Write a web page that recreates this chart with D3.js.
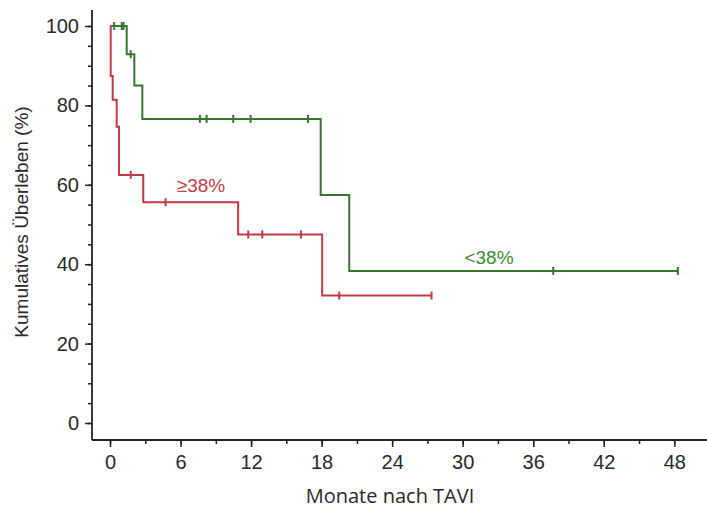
<!DOCTYPE html>
<html>
<head>
<meta charset="utf-8">
<script src="https://cdn.jsdelivr.net/npm/d3@7"></script>
<style>
  body { margin: 0; background: #fff; }
  svg { display: block; }
</style>
</head>
<body>
<div id="chart"></div>
<script>
// Kaplan-Meier-Daten
const greenTimes = [0, 1.42, 2.07, 2.75, 17.92, 20.35];
const greenSurv = [100, 92.9, 85.0, 76.6, 57.4, 38.3];
const greenEnd = 48.3;
const greenCensor = [0.35, 1.0, 1.15, 1.76, 7.65, 8.22, 10.48, 11.96, 16.84, 37.7, 48.3];

const redTimes = [0, 0.06, 0.23, 0.57, 0.77, 2.83, 10.9, 18.05];
const redSurv = [100, 87.4, 81.4, 74.6, 62.5, 55.6, 47.5, 32.1];
const redEnd = 27.35;
const redCensor = [1.76, 4.73, 11.76, 12.95, 16.24, 19.5, 27.35];

const xTicks = [0, 6, 12, 18, 24, 30, 36, 42, 48];
const yTicks = [0, 20, 40, 60, 80, 100];

const W = 707, H = 510;
const green = "#377530", red = "#c23a44";

const svg = d3.select("#chart").append("svg")
    .attr("width", W)
    .attr("height", H);

const x = d3.scaleLinear().domain([0, 48]).range([110, 674.3]);
const y = d3.scaleLinear().domain([0, 100]).range([423, 26]);

const axisX0 = 92, axisY0 = 440;
const font = "'Liberation Sans', Arial, sans-serif";

// Y-Achse: kleine Striche alle 5, große alle 20
svg.append("g")
    .attr("transform", `translate(${axisX0},0)`)
    .call(d3.axisLeft(y).tickValues(d3.range(0, 101, 5)).tickSize(4).tickFormat(""))
    .call(g => g.select(".domain").remove());

const yAxis = svg.append("g")
    .attr("transform", `translate(${axisX0},0)`)
    .call(d3.axisLeft(y).tickValues(yTicks).tickSize(7).tickPadding(6))
    .call(g => g.select(".domain").remove());
yAxis.selectAll("text").style("font-family", font).style("font-size", "20px").attr("fill", "#2a2a2a");

// X-Achse
svg.append("g")
    .attr("transform", `translate(0,${axisY0})`)
    .call(d3.axisBottom(x).tickValues(d3.range(0, 49, 3)).tickSize(4).tickFormat(""))
    .call(g => g.select(".domain").remove());

const xAxis = svg.append("g")
    .attr("transform", `translate(0,${axisY0})`)
    .call(d3.axisBottom(x).tickValues(xTicks).tickSize(7).tickPadding(8))
    .call(g => g.select(".domain").remove());
xAxis.selectAll("text").style("font-family", font).style("font-size", "20px").attr("fill", "#2a2a2a");

svg.selectAll(".tick line").attr("stroke", "#222").attr("stroke-width", 1.5);

// Achsenlinien
svg.append("line")
    .attr("x1", axisX0).attr("x2", axisX0)
    .attr("y1", 10).attr("y2", axisY0)
    .attr("stroke", "#222").attr("stroke-width", 1.8);
svg.append("line")
    .attr("x1", axisX0).attr("x2", W)
    .attr("y1", axisY0).attr("y2", axisY0)
    .attr("stroke", "#222").attr("stroke-width", 1.8);

// Kurven
function drawCurve(times, surv, end, censor, color) {
    const pts = times.map((t, i) => [t, surv[i]]);
    pts.push([end, surv[surv.length - 1]]);
    const line = d3.line()
        .x(d => x(d[0]))
        .y(d => y(d[1]))
        .curve(d3.curveStepAfter);
    svg.append("path")
        .datum(pts)
        .attr("d", line)
        .attr("fill", "none")
        .attr("stroke", color)
        .attr("stroke-width", 2);

    const survAt = t => {
        let s = surv[0];
        times.forEach((tt, i) => { if (tt <= t) s = surv[i]; });
        return s;
    };
    svg.selectAll(null)
        .data(censor)
        .enter()
        .append("line")
        .attr("x1", d => x(d)).attr("x2", d => x(d))
        .attr("y1", d => y(survAt(d)) - 4)
        .attr("y2", d => y(survAt(d)) + 4)
        .attr("stroke", color)
        .attr("stroke-width", 2);
}

drawCurve(greenTimes, greenSurv, greenEnd, greenCensor, green);
drawCurve(redTimes, redSurv, redEnd, redCensor, red);

// Beschriftungen der Gruppen
svg.append("text")
    .attr("x", 201).attr("y", 192)
    .attr("text-anchor", "middle")
    .style("font-family", font)
    .style("font-size", "19px")
    .attr("fill", "#c0404a")
    .text("≥38%");

svg.append("text")
    .attr("x", 489).attr("y", 264)
    .attr("text-anchor", "middle")
    .style("font-family", font)
    .style("font-size", "19px")
    .attr("fill", "#3f8a36")
    .text("<38%");

// Achsentitel
svg.append("text")
    .attr("transform", "translate(28,222) rotate(-90)")
    .attr("text-anchor", "middle")
    .style("font-family", font)
    .style("font-size", "19px")
    .attr("fill", "#2a2a2a")
    .text("Kumulatives Überleben (%)");

svg.append("text")
    .attr("x", 390).attr("y", 503)
    .attr("text-anchor", "middle")
    .style("font-family", "'Open Sans', 'Noto Sans', sans-serif")
    .style("font-size", "20px")
    .attr("fill", "#2a2a2a")
    .text("Monate nach TAVI");
</script>
</body>
</html>
